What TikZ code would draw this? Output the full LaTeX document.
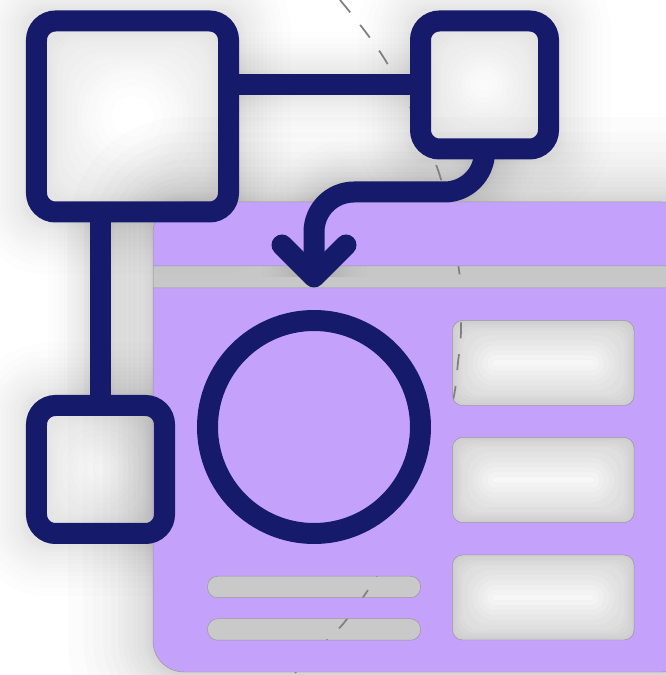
\documentclass[tikz,border=0pt]{standalone}
\usepackage{xcolor}
\usepackage{tikz}
\usetikzlibrary{calc}
\usetikzlibrary{positioning}
\definecolor{navyink}{RGB}{21,27,106}
\definecolor{cardlilac}{RGB}{196,162,251}
\pgfdeclarelayer{shadowlayer}
\pgfdeclarelayer{cardlayer}
\pgfsetlayers{shadowlayer,cardlayer,main}
\tikzset{
  mybox/.style={
    draw=navyink,
    shape=rectangle,
    line width=0.42cm,
    rounded corners=0.38cm,
    inner sep=0pt,
    outer sep=0pt,
  },
  myring/.style={
    draw=navyink,
    shape=circle,
    line width=0.42cm,
    inner sep=0pt,
    outer sep=0pt,
    minimum size=4.26cm,
  },
  mylink/.style={
    draw=navyink,
    line width=0.42cm,
  },
  mywing/.style={
    draw=navyink,
    line width=0.42cm,
    line cap=round,
    line join=round,
  },
  mydash/.style={
    draw=black!50,
    line width=0.035cm,
    dash pattern=on 0.32cm off 0.32cm,
  },
  mycard/.style={
    fill=cardlilac,
    draw=black!40,
    line width=0.01cm,
    even odd rule,
  },
}
% card outline, the band and the cut-outs
\newcommand{\cardbody}{(3.06,0.06) rectangle (13.86,9.46)}
\newcommand{\cardband}{(3.06,7.74) rectangle (13.86,8.18)}
\newcommand{\cardrowa}{(9.05,5.39) rectangle (12.68,7.09)}
\newcommand{\cardrowb}{(9.05,3.05) rectangle (12.68,4.75)}
\newcommand{\cardrowc}{(9.05,0.70) rectangle (12.68,2.40)}
\newcommand{\cardpilla}{(4.15,1.545) rectangle (8.41,1.975)}
\newcommand{\cardpillb}{(4.15,0.695) rectangle (8.41,1.125)}
% centre x, centre y, half width, half height, grow out, shrink in
\newcommand{\softring}[6]{%
  \pgfmathsetmacro\ringx{#3-#6}%
  \pgfmathsetmacro\ringy{#4-#6}%
  \pgfmathsetmacro\ringr{min(0.15+#6,0.98*min(\ringx,\ringy))}%
  \pgfmathsetmacro\ringo{0.2+#5}%
  \ifdim\ringr pt>0.02pt
    \fill [even odd rule]
      {[rounded corners=\ringo cm] (#1-#3-#5,#2-#4-#5) rectangle (#1+#3+#5,#2+#4+#5)}
      {[rounded corners=\ringr cm] (#1-\ringx,#2-\ringy) rectangle (#1+\ringx,#2+\ringy)};
  \else
    \fill [rounded corners=\ringo cm] (#1-#3-#5,#2-#4-#5) rectangle (#1+#3+#5,#2+#4+#5);
  \fi
}
\begin{document}
\begin{tikzpicture}
  \useasboundingbox (0,0) rectangle (13.32,13.5);

  \node [mybox, minimum width=3.84cm, minimum height=3.82cm] (hub) at (2.65, 11.17) {};
  \node [mybox, minimum size=2.56cm] (topbox)  at (9.69, 11.80) {};
  \node [mybox, minimum size=2.56cm] (leftbox) at (2.01, 4.11) {};
  \node [myring] (photo) at (6.28, 4.96) {};

  \coordinate (turn) at (6.28, 9.66);
  \coordinate (tip)  at (6.28, 7.96);
  \coordinate (wingl) at (5.64, 8.60);
  \coordinate (wingr) at (6.92, 8.60);

  \draw [mylink] (topbox) -- (topbox -| hub.east);
  \draw [mylink] (leftbox) -- (leftbox |- hub.south);
  \draw [mylink, rounded corners=0.8cm] (topbox.south) |- (turn) -- (tip);
  \draw [mywing] (wingl) -- (tip) -- (wingr);

  \begin{pgfonlayer}{shadowlayer}
    \fill [white] (0,0) rectangle (13.32,13.5);

    % Soft shadow of the card
    \foreach \rad in {0.05,0.1,0.15,0.2,0.3,0.4,0.5,0.6,0.7,0.85,1.0,1.2,1.4,1.7} {
      \fill [black, fill opacity=0.012, rounded corners=0.62cm + \rad cm]
        (3.06-\rad,0.06-\rad) rectangle (13.86+\rad,9.46+\rad);
    }

    % The cut-outs show only their own shadow
    \fill [white, rounded corners=0.2cm] \cardrowa;
    \fill [white, rounded corners=0.2cm] \cardrowb;
    \fill [white, rounded corners=0.2cm] \cardrowc;
    \fill [black!21, rounded corners=0.2cm] \cardpilla;
    \fill [black!21, rounded corners=0.2cm] \cardpillb;
    \fill [black!22] \cardband;
    \foreach \rad in {0.05,0.1,0.15,0.2,0.3,0.4,0.5,0.6,0.7,0.8,0.9,1.0} {
      \begin{scope}[black, fill opacity=0.016]
        \softring{10.865}{6.24}{1.815}{0.85}{0}{\rad}
        \softring{10.865}{3.90}{1.815}{0.85}{0}{\rad}
        \softring{10.865}{1.55}{1.815}{0.85}{0}{\rad}
      \end{scope}
    }

    % Soft shadow of the boxes and links
    \foreach \rad in {0.05,0.1,0.15,0.2,0.3,0.4,0.5,0.6,0.7,0.8,0.95,1.1,1.3} {
      \pgfmathsetmacro\thick{0.21+\rad}
      \pgfmathsetmacro\spread{0.21+0.8*\rad}
      \pgfmathsetmacro\reach{0.42+1.3*\rad}
      \begin{scope}[black, fill opacity=0.008, draw opacity=0.006]
        \softring{2.65}{11.17}{1.92}{1.91}{\spread}{\thick}
        \softring{9.69}{11.80}{1.28}{1.28}{\spread}{\thick}
        \softring{2.01}{4.11}{1.28}{1.28}{\spread}{\thick}
        \draw [line width=\reach cm] (topbox) -- (topbox -| hub.east);
        \draw [line width=\reach cm] (leftbox) -- (leftbox |- hub.south);
        \draw [line width=\reach cm, rounded corners=0.8cm] (topbox.south) |- (turn) -- (tip);
      \end{scope}
    }

    % Hidden dashed arc, seen only through the gaps
    \draw [mydash] plot [smooth] coordinates {
      (6.80,13.50) (7.74,12.24) (8.76,10.10) (9.18,8.10) (9.22,6.90)
      (9.16,6.26) (9.06,5.50) (8.60,3.90) (7.96,2.70) (7.36,1.70) (6.86,1.02) (6.54,0.70) (5.90,0.04)};
  \end{pgfonlayer}

  \begin{pgfonlayer}{cardlayer}
    \path [mycard]
      {[rounded corners=0.62cm] \cardbody}
      \cardband
      {[rounded corners=0.2cm] \cardrowa}
      {[rounded corners=0.2cm] \cardrowb}
      {[rounded corners=0.2cm] \cardrowc}
      {[rounded corners=0.2cm] \cardpilla}
      {[rounded corners=0.2cm] \cardpillb};
  \end{pgfonlayer}
\end{tikzpicture}
\end{document}
